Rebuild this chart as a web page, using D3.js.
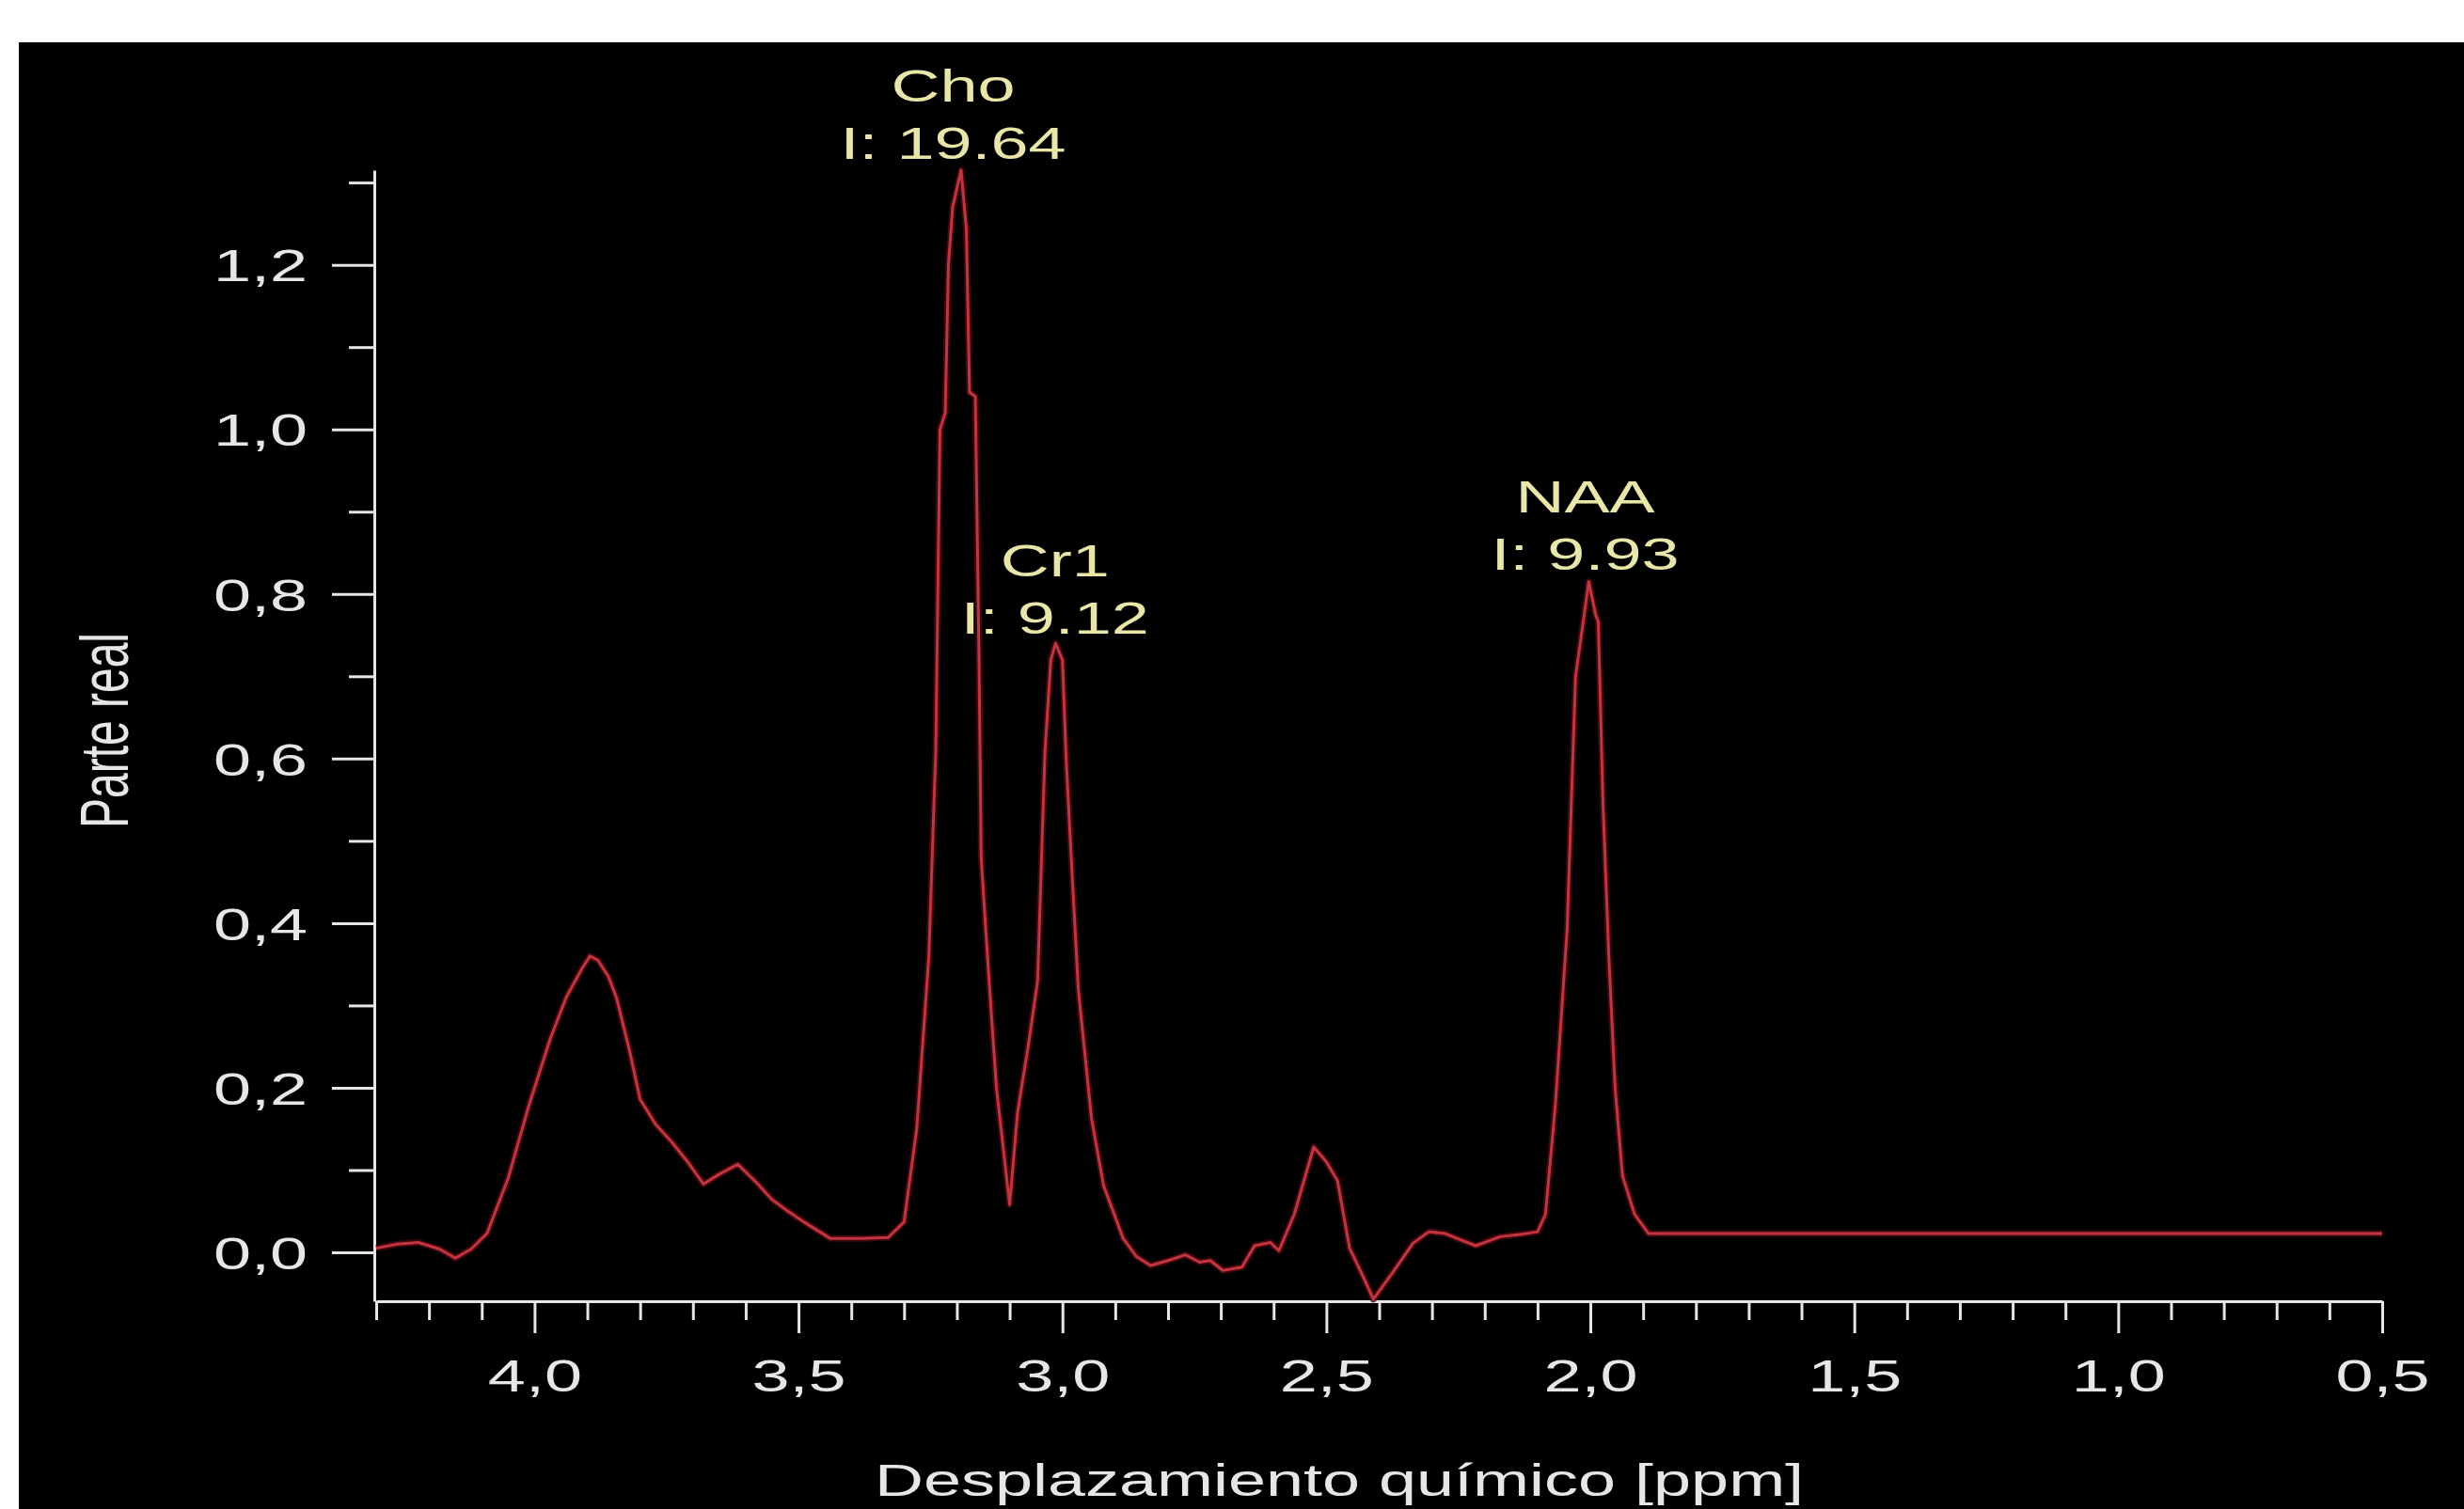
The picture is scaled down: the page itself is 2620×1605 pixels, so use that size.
<!DOCTYPE html>
<html>
<head>
<meta charset="utf-8">
<script src="https://cdn.jsdelivr.net/npm/d3@7"></script>
<style>
html, body { margin: 0; padding: 0; background: #ffffff; }
svg { display: block; }
</style>
</head>
<body>
<svg id="chart" width="2620" height="1605"></svg>
<script>
// ---------- data ----------
const ppm = [
  4.30, 4.26, 4.22, 4.18, 4.15, 4.12, 4.09, 4.05, 4.01, 3.97,
  3.94, 3.91, 3.895, 3.88, 3.86, 3.845, 3.82, 3.80, 3.77, 3.74,
  3.71, 3.68, 3.65, 3.615, 3.58, 3.55, 3.52, 3.49, 3.44, 3.38,
  3.33, 3.30, 3.276, 3.253, 3.240, 3.232, 3.222, 3.216, 3.208, 3.192,
  3.182, 3.176, 3.165, 3.158, 3.154, 3.14, 3.125, 3.10, 3.085, 3.065,
  3.047, 3.033, 3.022, 3.013, 3.0, 2.993, 2.985, 2.97, 2.945, 2.922,
  2.885, 2.86, 2.833, 2.80, 2.767, 2.74, 2.72, 2.696, 2.66, 2.636,
  2.606, 2.59, 2.561, 2.524, 2.50, 2.479, 2.456, 2.43, 2.411, 2.374,
  2.336, 2.306, 2.276, 2.245, 2.217, 2.171, 2.13, 2.10, 2.085, 2.066,
  2.044, 2.028, 2.02, 2.003, 1.99, 1.985, 1.976, 1.965, 1.953, 1.939,
  1.916, 1.89, 1.87, 0.50
];
const intensity = [
  0.005, 0.010, 0.012, 0.004, -0.007, 0.004, 0.023, 0.09, 0.18, 0.26,
  0.31, 0.345, 0.36, 0.355, 0.335, 0.31, 0.245, 0.186, 0.155, 0.134,
  0.11, 0.083, 0.095, 0.107, 0.085, 0.064, 0.05, 0.037, 0.017, 0.017,
  0.018, 0.037, 0.15, 0.36, 0.61, 1.0, 1.02, 1.20, 1.27, 1.315,
  1.243, 1.045, 1.04, 0.72, 0.48, 0.34, 0.20, 0.058, 0.17, 0.25,
  0.33, 0.61, 0.72, 0.74, 0.72, 0.60, 0.50, 0.32, 0.163, 0.081,
  0.017, -0.005, -0.016, -0.01, -0.003, -0.012, -0.01, -0.022, -0.018, 0.008,
  0.012, 0.002, 0.046, 0.128, 0.11, 0.087, 0.005, -0.03, -0.057, -0.024,
  0.011, 0.025, 0.023, 0.015, 0.008, 0.019, 0.022, 0.025, 0.046, 0.181,
  0.392, 0.70, 0.736, 0.815, 0.775, 0.766, 0.545, 0.36, 0.199, 0.093,
  0.046, 0.023, 0.023, 0.023
];

const xMajorTicks = [4.0, 3.5, 3.0, 2.5, 2.0, 1.5, 1.0, 0.5];
const xMinorTicks = [4.3, 4.2, 4.1, 3.9, 3.8, 3.7, 3.6, 3.4, 3.3, 3.2, 3.1, 2.9, 2.8, 2.7, 2.6,
                     2.4, 2.3, 2.2, 2.1, 1.9, 1.8, 1.7, 1.6, 1.4, 1.3, 1.2, 1.1, 0.9, 0.8, 0.7, 0.6];
const yMajorTicks = [0.0, 0.2, 0.4, 0.6, 0.8, 1.0, 1.2];
const yMinorTicks = [0.1, 0.3, 0.5, 0.7, 0.9, 1.1, 1.3];

const peakNames = ["Cho", "Cr1", "NAA"];
const peakIntegrals = ["19.64", "9.12", "9.93"];
const peakLabelPpm = [3.207, 3.014, 2.010];
const peakHeights = [1.317, 0.74, 0.818];

const xTitle = "Desplazamiento químico [ppm]";
const yTitle = "Parte real";

// ---------- layout / style ----------
const W = 2620, H = 1605;
const FONT = "'Liberation Sans', Arial, sans-serif";
const FS = 48;
const STRETCH = 1.5;          // the reference font is horizontally stretched
const AXIS_COLOR = "#e6e6e6";
const LABEL_COLOR = "#e9e6a8";
const LINE_COLOR = "#c5343e";

const svg = d3.select("#chart");

svg.append("rect")
  .attr("x", 20).attr("y", 45)
  .attr("width", W - 20).attr("height", H - 45)
  .attr("fill", "#000000");

const x = d3.scaleLinear().domain([4.3, 0.5]).range([400, 2533]);
const y = d3.scaleLinear().domain([-0.0594, 1.315]).range([1384, 181]);

const fmtComma = d => d3.format(".1f")(d).replace(".", ",");

// ---------- x axis ----------
const gx = svg.append("g").attr("transform", `translate(0,${y.range()[0]})`);
gx.call(d3.axisBottom(x).tickValues(xMinorTicks).tickSize(20).tickSizeOuter(0).tickFormat(""));
const gxMaj = svg.append("g").attr("transform", `translate(0,${y.range()[0]})`);
gxMaj.call(d3.axisBottom(x).tickValues(xMajorTicks).tickSize(34).tickSizeOuter(0).tickFormat(fmtComma));
gxMaj.select(".domain").remove();
gxMaj.selectAll(".tick text")
  .attr("y", 96).attr("dy", null)
  .attr("transform", `scale(${STRETCH},1)`);

// ---------- y axis ----------
const gy = svg.append("g").attr("transform", `translate(${x.range()[0] - 2},0)`);
gy.call(d3.axisLeft(y).tickValues(yMinorTicks).tickSize(27).tickSizeOuter(0).tickFormat(""));
const gyMaj = svg.append("g").attr("transform", `translate(${x.range()[0] - 2},0)`);
gyMaj.call(d3.axisLeft(y).tickValues(yMajorTicks).tickSize(45).tickSizeOuter(0).tickFormat(fmtComma));
gyMaj.select(".domain").remove();
gyMaj.selectAll(".tick text")
  .attr("x", -71 / STRETCH).attr("dy", "0.36em")
  .attr("transform", `scale(${STRETCH},1)`);

svg.selectAll(".domain, .tick line")
  .attr("stroke", AXIS_COLOR).attr("stroke-width", 3);
svg.selectAll(".tick text")
  .attr("fill", AXIS_COLOR)
  .attr("font-family", FONT).attr("font-size", FS);

// ---------- spectrum ----------
const pts = ppm.map((p, i) => [p, intensity[i]]);
const line = d3.line().x(d => x(d[0])).y(d => y(d[1]));

svg.append("path").datum(pts)
  .attr("d", line).attr("fill", "none")
  .attr("stroke", "#4a0a10").attr("stroke-width", 7)
  .attr("stroke-linejoin", "round").attr("opacity", 0.8);
svg.append("path").datum(pts)
  .attr("d", line).attr("fill", "none")
  .attr("stroke", LINE_COLOR).attr("stroke-width", 3)
  .attr("stroke-linejoin", "round");

// ---------- peak annotations ----------
peakNames.forEach((name, i) => {
  const px = x(peakLabelPpm[i]);
  const py = y(peakHeights[i]) - 10;
  [[name, py - 61], ["I: " + peakIntegrals[i], py]].forEach(([t, yy]) => {
    svg.append("text")
      .attr("transform", `translate(${px},${yy}) scale(${STRETCH},1)`)
      .attr("text-anchor", "middle")
      .attr("fill", LABEL_COLOR)
      .attr("font-family", FONT).attr("font-size", FS)
      .text(t);
  });
});

// ---------- titles ----------
svg.append("text")
  .attr("transform", `translate(1424,1591) scale(${STRETCH},1)`)
  .attr("text-anchor", "middle")
  .attr("fill", AXIS_COLOR)
  .attr("font-family", FONT).attr("font-size", FS)
  .text(xTitle);

svg.append("text")
  .attr("transform", `translate(110,777) scale(${STRETCH},1) rotate(-90)`)
  .attr("text-anchor", "middle")
  .attr("dy", "0.36em")
  .attr("fill", AXIS_COLOR)
  .attr("font-family", FONT).attr("font-size", FS)
  .text(yTitle);
</script>
</body>
</html>
